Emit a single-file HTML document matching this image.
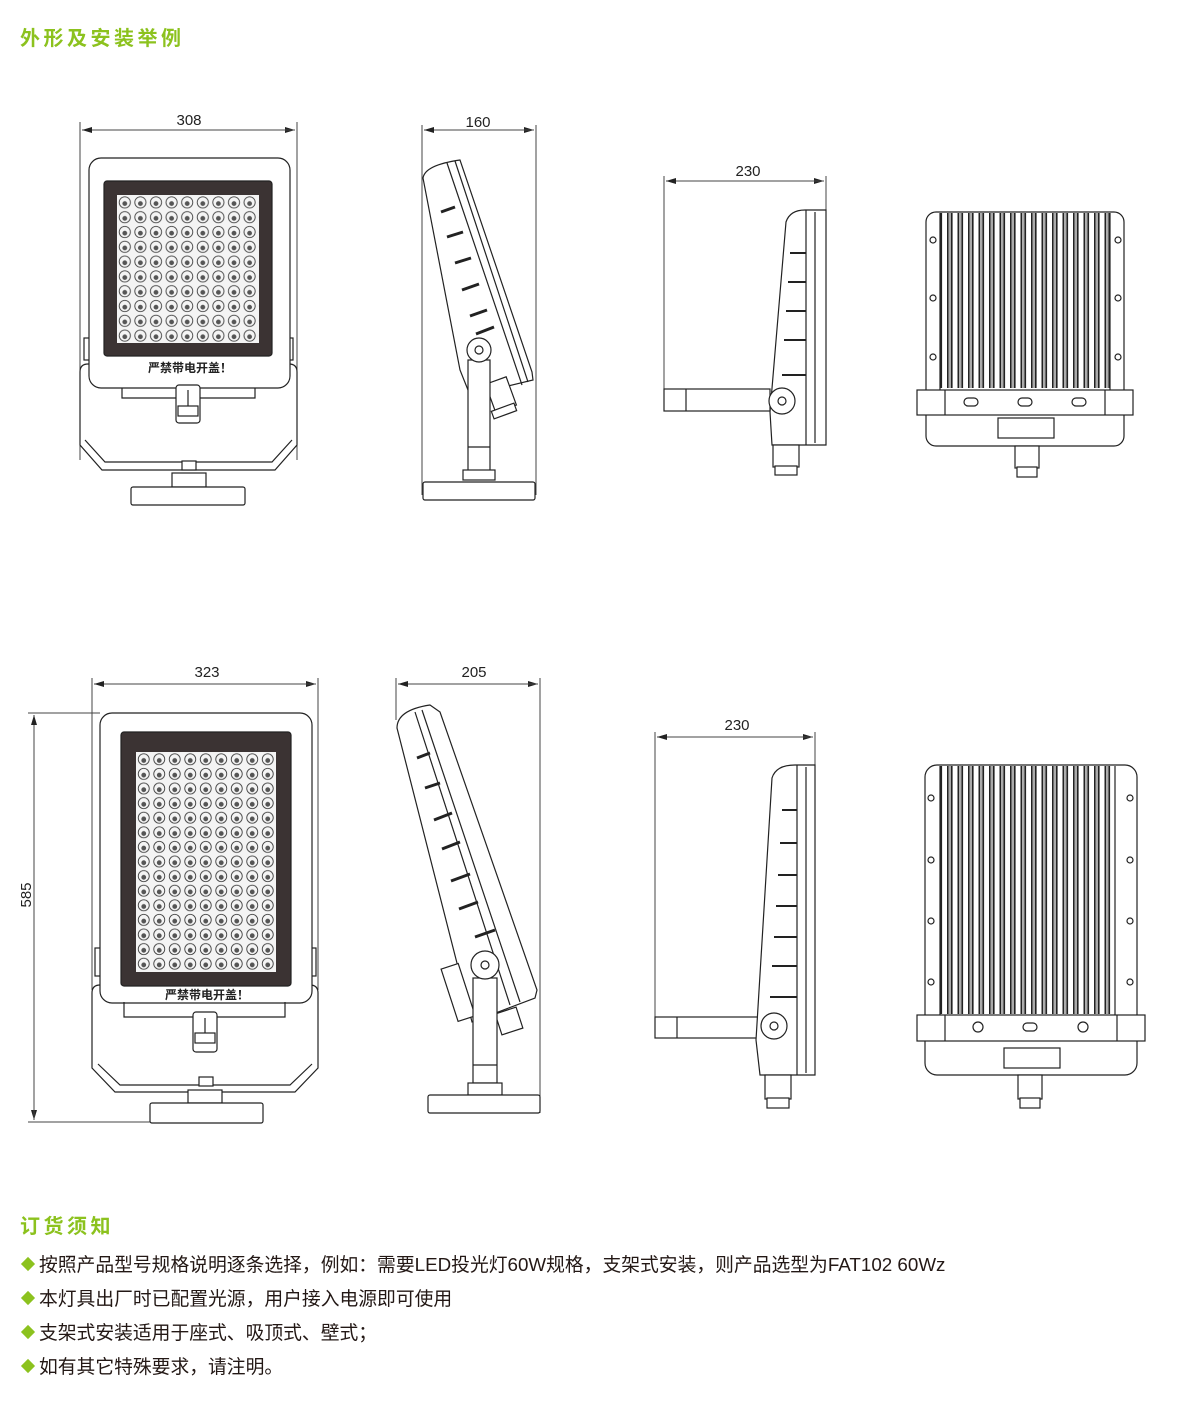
<!DOCTYPE html>
<html><head><meta charset="utf-8"><style>
html,body{margin:0;padding:0;background:#fff;}
body{width:1200px;height:1418px;position:relative;overflow:hidden;font-family:"Liberation Sans","Noto Sans CJK SC",sans-serif;}
.h{position:absolute;left:20px;color:#8cc21e;font-weight:bold;font-size:20px;letter-spacing:3.5px;font-family:"Liberation Sans","Noto Sans CJK SC",sans-serif;}
.li{position:absolute;left:20px;font-size:18.8px;color:#231815;font-family:"Liberation Sans","Noto Sans CJK SC",sans-serif;white-space:nowrap;}
.li b{display:inline-block;width:10px;height:10px;background:#8cc21e;transform:rotate(45deg);margin:0 6px 2px 3px;}
svg{position:absolute;left:0;top:0;}
</style></head><body>
<div class="h" style="top:22px">外形及安装举例</div>
<div class="h" style="top:1210px">订货须知</div>
<div class="li" style="top:1250px"><b></b>按照产品型号规格说明逐条选择，例如：需要LED投光灯60W规格，支架式安装，则产品选型为FAT102 60Wz</div>
<div class="li" style="top:1284px"><b></b>本灯具出厂时已配置光源，用户接入电源即可使用</div>
<div class="li" style="top:1318px"><b></b>支架式安装适用于座式、吸顶式、壁式；</div>
<div class="li" style="top:1352px"><b></b>如有其它特殊要求，请注明。</div>

<svg width="1200" height="1200" viewBox="0 0 1200 1200" xmlns="http://www.w3.org/2000/svg">
<defs>
<pattern id="led1" x="117" y="195" width="15.6" height="14.8" patternUnits="userSpaceOnUse">
<circle cx="7.8" cy="7.4" r="5.6" fill="#f4f4f4" stroke="#444" stroke-width="0.9"/><circle cx="7.8" cy="8.6" r="2.4" fill="#555"/></pattern>
<pattern id="led2" x="136" y="752" width="15.5" height="14.6" patternUnits="userSpaceOnUse">
<circle cx="7.75" cy="7.3" r="5.5" fill="#f4f4f4" stroke="#444" stroke-width="0.9"/><circle cx="7.75" cy="8.5" r="2.4" fill="#555"/></pattern>
<pattern id="fin" x="0" y="0" width="10.5" height="20" patternUnits="userSpaceOnUse">
<rect x="2" y="0" width="1.6" height="20" fill="#222"/><rect x="6" y="0" width="1.6" height="20" fill="#222"/><rect x="3.6" y="0" width="2.4" height="20" fill="#aaa"/></pattern>
<marker id="ar" markerWidth="10" markerHeight="6" refX="10" refY="3" orient="auto"><path d="M0,0 L10,3 L0,6 z" fill="#222"/></marker>
</defs>
<g font-family="Liberation Sans, sans-serif" font-size="15" fill="#222" text-anchor="middle">
<text x="189" y="125">308</text><text x="478" y="127">160</text><text x="748" y="176">230</text>
<text x="207" y="677">323</text><text x="474" y="677">205</text><text x="737" y="730">230</text>
<text x="0" y="0" transform="translate(31,895) rotate(-90)">585</text>
</g>
<g stroke="#444" stroke-width="1" fill="none">
<line x1="80" y1="122" x2="80" y2="460"/><line x1="297" y1="122" x2="297" y2="460"/>
<line x1="82" y1="130" x2="295" y2="130" marker-end="url(#ar)"/><line x1="295" y1="130" x2="82" y2="130" marker-end="url(#ar)"/>
<line x1="422" y1="125" x2="422" y2="495"/><line x1="536" y1="125" x2="536" y2="495"/>
<line x1="424" y1="130" x2="534" y2="130" marker-end="url(#ar)"/><line x1="534" y1="130" x2="424" y2="130" marker-end="url(#ar)"/>
<line x1="664" y1="176" x2="664" y2="400"/><line x1="826" y1="176" x2="826" y2="215"/>
<line x1="666" y1="181" x2="824" y2="181" marker-end="url(#ar)"/><line x1="824" y1="181" x2="666" y2="181" marker-end="url(#ar)"/>
<line x1="92" y1="678" x2="92" y2="990"/><line x1="318" y1="678" x2="318" y2="990"/>
<line x1="94" y1="684" x2="316" y2="684" marker-end="url(#ar)"/><line x1="316" y1="684" x2="94" y2="684" marker-end="url(#ar)"/>
<line x1="396" y1="678" x2="396" y2="720"/><line x1="540" y1="678" x2="540" y2="1113"/>
<line x1="398" y1="684" x2="538" y2="684" marker-end="url(#ar)"/><line x1="538" y1="684" x2="398" y2="684" marker-end="url(#ar)"/>
<line x1="28" y1="713" x2="100" y2="713"/><line x1="28" y1="1122" x2="150" y2="1122"/>
<line x1="34" y1="715" x2="34" y2="1120" marker-end="url(#ar)"/><line x1="34" y1="1120" x2="34" y2="715" marker-end="url(#ar)"/>
<line x1="655" y1="732" x2="655" y2="1020"/><line x1="815" y1="732" x2="815" y2="770"/>
<line x1="657" y1="737" x2="813" y2="737" marker-end="url(#ar)"/><line x1="813" y1="737" x2="657" y2="737" marker-end="url(#ar)"/>
</g>

<g stroke="#222" stroke-width="1.2" fill="#fff">
<!-- TOP FRONT -->
<path d="M80,372 L80,445 L102,470 L275,470 L297,445 L297,372 Q297,364 289,364 L88,364 Q80,364 80,372 Z"/>
<path d="M85,440 L105,462 L272,462 L292,440" fill="none"/>
<rect x="84" y="338" width="8" height="22"/><rect x="285" y="338" width="8" height="22"/>
<rect x="89" y="158" width="201" height="230" rx="12"/>
<path d="M122,388 L122,398 L255,398 L255,388" fill="none"/>
<rect x="104" y="181" width="168" height="175" rx="3" fill="#3b3333"/>
<rect x="117" y="195" width="142" height="148" fill="#f4f4f4" stroke="none"/>
<rect x="117" y="195" width="142" height="148" fill="url(#led1)" stroke="none"/>
<rect x="176" y="385" width="24" height="38" rx="3"/><line x1="188" y1="390" x2="188" y2="415"/>
<rect x="178" y="406" width="20" height="10"/>
<rect x="182" y="461" width="14" height="9"/>
<rect x="172" y="473" width="34" height="14"/>
<rect x="131" y="487" width="114" height="18" rx="2"/>
<!-- TOP SIDE -->
<path d="M423,178 Q425,165 460,160 L532,372 L533,380 L470,395 L460,370 Z"/>
<path d="M447,163 L522,385" fill="none"/><path d="M455,161 L528,382" fill="none"/>
<g stroke-width="3" fill="none"><line x1="441" y1="212" x2="455" y2="207"/><line x1="447" y1="237" x2="463" y2="232"/><line x1="455" y1="263" x2="471" y2="258"/><line x1="462" y1="290" x2="479" y2="284"/><line x1="470" y1="316" x2="487" y2="310"/><line x1="476" y1="334" x2="494" y2="327"/></g>
<rect x="490" y="380" width="22" height="30" transform="rotate(-20 500 395)"/>
<rect x="492" y="407" width="24" height="8" transform="rotate(-20 504 411)"/>
<rect x="468" y="360" width="22" height="112"/><line x1="468" y1="447" x2="490" y2="447"/>
<rect x="463" y="470" width="32" height="10"/>
<rect x="423" y="482" width="112" height="18" rx="2"/>
<circle cx="479" cy="350" r="12"/><circle cx="479" cy="350" r="4"/>
<!-- TOP RIGHT SIDE -->
<rect x="664" y="389" width="106" height="22"/><line x1="686" y1="389" x2="686" y2="411"/>
<path d="M786,222 Q790,210 805,210 L826,210 L826,445 L772,445 L770,412 Z"/>
<line x1="806" y1="210" x2="806" y2="445"/><line x1="815" y1="212" x2="815" y2="443"/>
<g stroke-width="2"><line x1="790" y1="253" x2="806" y2="253"/><line x1="788" y1="282" x2="806" y2="282"/><line x1="786" y1="311" x2="806" y2="311"/><line x1="784" y1="340" x2="806" y2="340"/><line x1="782" y1="375" x2="806" y2="375"/></g>
<circle cx="782" cy="401" r="13"/><circle cx="782" cy="401" r="4"/>
<rect x="773" y="445" width="26" height="22"/><rect x="775" y="466" width="22" height="9"/>
<!-- TOP BACK -->
<rect x="926" y="212" width="198" height="234" rx="10"/>
<rect x="940" y="213" width="170" height="175" fill="url(#fin)" stroke="none"/>
<line x1="940" y1="213" x2="940" y2="390"/><line x1="1110" y1="213" x2="1110" y2="390"/>
<g fill="#fff"><circle cx="933" cy="240" r="3"/><circle cx="933" cy="298" r="3"/><circle cx="933" cy="357" r="3"/><circle cx="1118" cy="240" r="3"/><circle cx="1118" cy="298" r="3"/><circle cx="1118" cy="357" r="3"/></g>
<rect x="917" y="390" width="216" height="25"/>
<line x1="945" y1="390" x2="945" y2="415"/><line x1="1105" y1="390" x2="1105" y2="415"/>
<rect x="964" y="398" width="14" height="8" rx="4"/><rect x="1072" y="398" width="14" height="8" rx="4"/><rect x="1018" y="398" width="14" height="8" rx="4"/>
<rect x="998" y="418" width="56" height="20"/>
<rect x="1015" y="446" width="24" height="22"/><rect x="1017" y="467" width="20" height="10"/>
<!-- BOTTOM FRONT -->
<path d="M92,993 L92,1068 L115,1092 L295,1092 L318,1068 L318,993 Q318,985 310,985 L100,985 Q92,985 92,993 Z"/>
<path d="M98,1064 L120,1085 L290,1085 L312,1064" fill="none"/>
<rect x="95" y="948" width="7" height="28"/><rect x="309" y="948" width="7" height="28"/>
<rect x="100" y="713" width="212" height="290" rx="12"/>
<path d="M124,1002 L124,1017 L285,1017 L285,1002" fill="none"/>
<rect x="121" y="732" width="170" height="254" rx="3" fill="#3b3333"/>
<rect x="136" y="752" width="140" height="220" fill="#f4f4f4" stroke="none"/>
<rect x="136" y="752" width="140" height="220" fill="url(#led2)" stroke="none"/>
<rect x="193" y="1012" width="24" height="40" rx="3"/><line x1="205" y1="1018" x2="205" y2="1040"/>
<rect x="195" y="1033" width="20" height="10"/>
<rect x="199" y="1077" width="14" height="9"/>
<rect x="188" y="1090" width="34" height="13"/>
<rect x="150" y="1103" width="113" height="20" rx="2"/>
<!-- BOTTOM SIDE -->
<path d="M397,728 Q397,710 430,705 L440,712 L537,990 L535,998 L472,1022 Z"/>
<path d="M415,712 L510,1005" fill="none"/><path d="M422,710 L520,1002" fill="none"/>
<g stroke-width="3" fill="none"><line x1="417" y1="758" x2="430" y2="753"/><line x1="425" y1="788" x2="440" y2="783"/><line x1="434" y1="820" x2="452" y2="813"/><line x1="442" y1="849" x2="460" y2="842"/><line x1="451" y1="881" x2="470" y2="874"/><line x1="459" y1="909" x2="478" y2="902"/><line x1="475" y1="937" x2="495" y2="930"/></g>
<rect x="449" y="965" width="18" height="55" transform="rotate(-18 458 992)"/>
<rect x="498" y="1010" width="22" height="22" transform="rotate(-18 509 1021)"/>
<rect x="473" y="978" width="24" height="105"/><line x1="473" y1="1065" x2="497" y2="1065"/>
<rect x="468" y="1083" width="34" height="12"/>
<rect x="428" y="1095" width="112" height="18" rx="2"/>
<circle cx="485" cy="965" r="14"/><circle cx="485" cy="965" r="4"/>
<!-- BOTTOM RIGHT SIDE -->
<rect x="655" y="1017" width="107" height="21"/><line x1="677" y1="1017" x2="677" y2="1038"/>
<path d="M772,778 Q776,765 795,765 L815,765 L815,1075 L760,1075 L756,1040 Z"/>
<line x1="797" y1="765" x2="797" y2="1075"/><line x1="806" y1="767" x2="806" y2="1073"/>
<g stroke-width="2"><line x1="782" y1="810" x2="797" y2="810"/><line x1="780" y1="843" x2="797" y2="843"/><line x1="778" y1="875" x2="797" y2="875"/><line x1="776" y1="906" x2="797" y2="906"/><line x1="774" y1="937" x2="797" y2="937"/><line x1="772" y1="966" x2="797" y2="966"/><line x1="770" y1="997" x2="797" y2="997"/></g>
<circle cx="774" cy="1026" r="13"/><circle cx="774" cy="1026" r="4"/>
<rect x="765" y="1075" width="26" height="24"/><rect x="767" y="1098" width="22" height="10"/>
<!-- BOTTOM BACK -->
<rect x="925" y="765" width="212" height="310" rx="12"/>
<rect x="940" y="766" width="175" height="248" fill="url(#fin)" stroke="none"/>
<line x1="940" y1="766" x2="940" y2="1015"/><line x1="1115" y1="766" x2="1115" y2="1015"/>
<g fill="#fff"><circle cx="931" cy="798" r="3"/><circle cx="931" cy="860" r="3"/><circle cx="931" cy="921" r="3"/><circle cx="931" cy="982" r="3"/><circle cx="1130" cy="798" r="3"/><circle cx="1130" cy="860" r="3"/><circle cx="1130" cy="921" r="3"/><circle cx="1130" cy="982" r="3"/></g>
<rect x="917" y="1015" width="228" height="26"/>
<line x1="945" y1="1015" x2="945" y2="1041"/><line x1="1117" y1="1015" x2="1117" y2="1041"/>
<circle cx="978" cy="1027" r="5"/><circle cx="1083" cy="1027" r="5"/><rect x="1023" y="1023" width="14" height="8" rx="4"/>
<rect x="1004" y="1048" width="56" height="20"/>
<rect x="1018" y="1075" width="24" height="24"/><rect x="1020" y="1098" width="20" height="10"/>
</g>
<g font-family="Liberation Sans, Noto Sans CJK SC, sans-serif" font-size="12" font-weight="bold" fill="#222" text-anchor="middle">
<text x="190" y="372">严禁带电开盖！</text>
<text x="207" y="999">严禁带电开盖！</text>
</g>
</svg>
</body></html>
